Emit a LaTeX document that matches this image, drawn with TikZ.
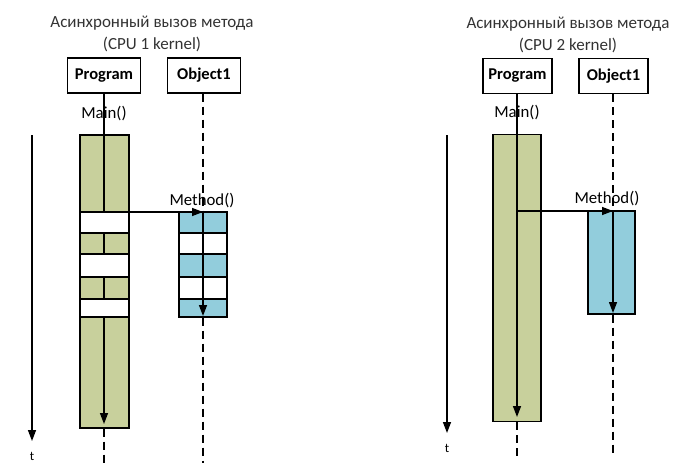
\documentclass[tikz,border=0pt]{standalone}
\usepackage{fontspec}
\setmainfont{Carlito}
\usetikzlibrary{arrows.meta}
\definecolor{barGreen}{RGB}{200,208,156}
\definecolor{barBlue}{RGB}{146,205,220}
\tikzset{
  objbox/.style={draw, line width=1.4pt, inner sep=0pt, minimum height=35pt, font=\fontsize{16.5}{19}\selectfont\bfseries},
  lbl/.style={inner sep=0pt, font=\fontsize{16.8}{19}\selectfont},
  ttl/.style={inner sep=0pt, font=\fontsize{17}{20}\selectfont, text=black!80},
  life/.style={line width=1.4pt},
  dashlife/.style={line width=1.4pt, dash pattern=on 8pt off 5pt},
  arr/.style={line width=1.4pt, -{Triangle[length=11pt,width=8pt]}},
  gbar/.style={draw, line width=1.2pt, fill=barGreen, inner sep=0pt},
  bbar/.style={draw, line width=1.2pt, fill=barBlue, inner sep=0pt},
  wcell/.style={draw, line width=1.2pt, fill=white, inner sep=0pt}
}
\begin{document}
\begin{tikzpicture}[x=1pt,y=-1pt]
\useasboundingbox (0,0) rectangle (676,471);
% ---------- left panel ----------
\node[ttl] (t1a) at (152,23) {Асинхронный вызов метода};
\node[ttl] (t1b) at (152,44) {(CPU 1 kernel)};
\node[objbox, minimum width=73pt] (p1) at (104,75.5) {Program};
\node[objbox, minimum width=73pt] (o1) at (204,75.5) {Object1};
% green bar with white cells
\node[gbar, minimum width=49pt, minimum height=293pt] (g1) at (104.5,281.5) {};
\node[wcell, minimum width=49pt, minimum height=21pt] (g1w1) at (104.5,222.5) {};
\node[wcell, minimum width=49pt, minimum height=23pt] (g1w2) at (104.5,265.5) {};
\node[wcell, minimum width=49pt, minimum height=18pt] (g1w3) at (104.5,308) {};
% blue bar with white cells
\node[bbar, minimum width=48pt, minimum height=105pt] (b1) at (203,264.5) {};
\node[wcell, minimum width=48pt, minimum height=21pt] (b1w1) at (203,243.5) {};
\node[wcell, minimum width=48pt, minimum height=22pt] (b1w2) at (203,288) {};
% program lifeline
\coordinate (p1a) at (104,212);
\coordinate (p1b) at (104,233);
\coordinate (p1c) at (104,254);
\coordinate (p1d) at (104,277);
\coordinate (p1e) at (104,299);
\coordinate (p1f) at (104,317);
\coordinate (p1g) at (104,424);
\coordinate (p1h) at (104,463);
\draw[life] (p1.south) -- (p1a);
\draw[life] (p1b) -- (p1c);
\draw[life] (p1d) -- (p1e);
\draw[arr] (p1f) -- (p1g);
\draw[dashlife] (g1.south -| p1h) -- (p1h);
\node[lbl] (m1) at (104,114) {Main()};
% object lifeline
\coordinate (o1a) at (203,212);
\coordinate (o1b) at (203,316);
\coordinate (o1c) at (203,463);
\draw[dashlife] (o1.south -| o1a) -- (o1a);
\draw[arr] (o1a) -- (o1b);
\draw[dashlife] (b1.south) -- (o1c);
% method call
\draw[arr] (p1a) -- (o1a);
\node[lbl] (mm1) at (202,201) {Method()};
% time axis
\coordinate (ax1a) at (32,135);
\coordinate (ax1b) at (32,441);
\draw[arr] (ax1a) -- (ax1b);
\node[lbl, font=\fontsize{13}{15}\selectfont] (tt1) at (32,456) {t};
% ---------- right panel ----------
\node[ttl] (t2a) at (568,24) {Асинхронный вызов метода};
\node[ttl] (t2b) at (568,45) {(CPU 2 kernel)};
\node[objbox, minimum width=69pt] (p2) at (517.5,76) {Program};
\node[objbox, minimum width=69pt] (o2) at (613.5,76) {Object1};
\node[gbar, minimum width=48pt, minimum height=287pt] (g2) at (517,278) {};
\node[bbar, minimum width=47pt, minimum height=103pt] (b2) at (611.5,262.5) {};
\coordinate (p2a) at (517,211);
\coordinate (p2b) at (517,417);
\coordinate (p2c) at (517,456);
\draw[arr] (p2.south -| p2a) -- (p2b);
\draw[dashlife] (g2.south -| p2c) -- (p2c);
\node[lbl] (m2) at (517,113) {Main()};
\coordinate (o2a) at (613,211);
\coordinate (o2b) at (613,313);
\coordinate (o2c) at (613,456);
\draw[dashlife] (o2.south -| o2a) -- (o2a);
\draw[arr] (o2a) -- (o2b);
\draw[dashlife] (b2.south -| o2c) -- (o2c);
\draw[arr] (p2a) -- (o2a);
\node[lbl] (mm2) at (607,199) {Method()};
\coordinate (ax2a) at (447,135);
\coordinate (ax2b) at (447,433);
\draw[arr] (ax2a) -- (ax2b);
\node[lbl, font=\fontsize{13}{15}\selectfont] (tt2) at (447,448) {t};
\end{tikzpicture}
\end{document}
